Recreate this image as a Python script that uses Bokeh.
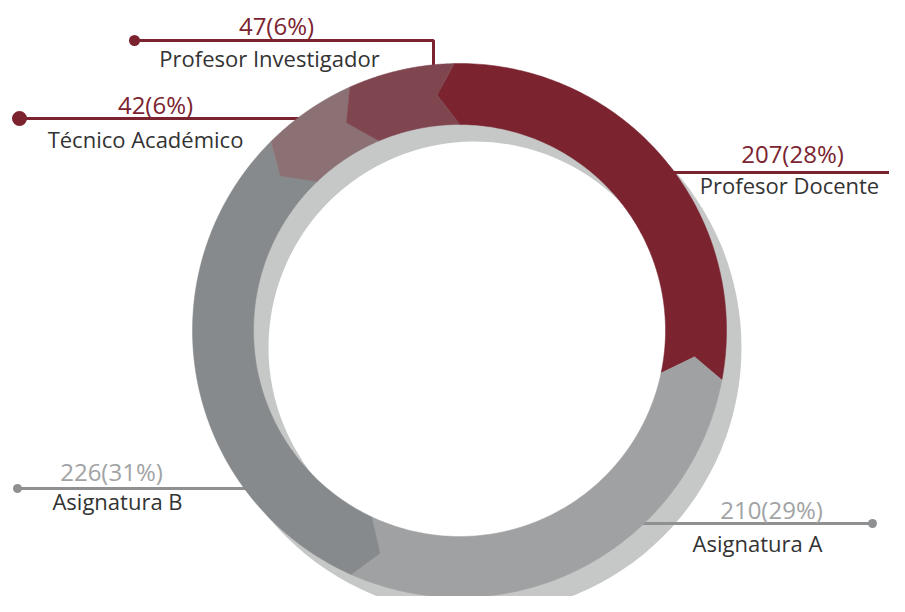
import numpy as np
from bokeh.plotting import figure
from bokeh.models import Range1d, ColumnDataSource
from bokeh.core.properties import value
from bokeh.embed import file_html
from bokeh.resources import INLINE

# ---- data ----
categories = ["Profesor Docente", "Asignatura A", "Asignatura B",
              "Técnico Académico", "Profesor Investigador"]
counts = [207, 210, 226, 42, 47]
percents = [28, 29, 31, 6, 6]
value_labels = [f"{c}({p}%)" for c, p in zip(counts, percents)]

# ---- styles ----
seg_colors = ["#7B2430", "#A0A1A3", "#878A8C", "#8B7074", "#7F4650"]
num_colors = ["#7B2430", "#A2A3A5", "#A2A3A5", "#7B2430", "#7B2430"]
line_colors = ["#7B2430", "#8E9092", "#8E9092", "#7B2430", "#7B2430"]
name_color = "#333333"
shadow_color = "#C6C8C7"
FONT = "Open Sans"

# ---- layout (image pixels) ----
W, H = 889, 596
CX, CY = 459, 330
R_OUT, R_IN = 267, 206
SHADOW_DX, SHADOW_DY = 15, 17
START = -3.0
NOTCH = 20.0
TXT_DY = -8.0

line_y = [172, 523, 488, 118, 40]
dot_x = [903, 872, 17, 19, 134]
dot_size = [12, 9, 9, 15, 11]
elbow_x = [None, None, None, None, 433]
num_x = [792, 771, 111, 155, 276]
num_y = [161, 517, 479, 112, 33]
name_x = [789, 757, 117, 145, 269]
name_y = [192, 550, 508, 146, 65]

p = figure(width=W, height=H, x_range=Range1d(0, W), y_range=Range1d(H, 0),
           min_border=0, toolbar_location=None, output_backend="svg",
           x_axis_type=None, y_axis_type=None)
p.grid.visible = False
p.outline_line_color = None
p.background_fill_color = "white"
p.border_fill_color = "white"

# shadow ring
p.annulus(x=[CX + SHADOW_DX], y=[CY + SHADOW_DY], inner_radius=R_IN, outer_radius=R_OUT,
          fill_color=shadow_color, line_color=None)

# leader lines
for i in range(len(categories)):
    y = line_y[i]
    if elbow_x[i] is None:
        dx = np.sqrt(max(R_OUT**2 - (y - CY)**2, 0))
        xr = CX + dx - 12 if dot_x[i] > CX else CX - dx + 12
        p.line([dot_x[i], xr], [y, y], line_color=line_colors[i], line_width=3)
    else:
        ex = elbow_x[i]
        yr = CY - np.sqrt(R_OUT**2 - (ex - CX)**2) + 12
        p.line([dot_x[i], ex, ex], [y, y, yr], line_color=line_colors[i], line_width=3)

# segments with chevron ends
total = sum(counts)
bounds = START + 360.0 * np.concatenate([[0], np.cumsum(counts)]) / total
rmid = (R_OUT + R_IN) / 2.0


def pt(r, deg):
    a = np.radians(deg)
    return CX + r * np.sin(a), CY - r * np.cos(a)


def chevron(b):
    t = b - np.degrees(NOTCH / 2 / rmid)
    o = t + np.degrees(np.arctan(NOTCH / R_OUT))
    n = t + np.degrees(np.arctan(NOTCH / R_IN))
    return t, o, n


xs, ys = [], []
for i in range(len(counts)):
    t0, o0, n0 = chevron(bounds[i])
    t1, o1, n1 = chevron(bounds[i + 1])
    oa = np.linspace(o0, o1, 120)
    ia = np.linspace(n1, n0, 120)
    ox, oy = pt(R_OUT, oa)
    ix, iy = pt(R_IN, ia)
    tx1, ty1 = pt(rmid, t1)
    tx0, ty0 = pt(rmid, t0)
    xs.append(list(ox) + [tx1] + list(ix) + [tx0])
    ys.append(list(oy) + [ty1] + list(iy) + [ty0])

p.patches(xs=xs, ys=ys, fill_color=seg_colors, line_color=seg_colors, line_width=0.5)

# dots
p.scatter(x=dot_x, y=line_y, size=dot_size, fill_color=line_colors, line_color=None)

# texts
src_num = ColumnDataSource(dict(x=num_x, y=[v + TXT_DY for v in num_y], t=value_labels, c=num_colors))
p.text(x="x", y="y", text="t", text_color="c", source=src_num,
       text_font=value(FONT), text_font_size="24px",
       text_align="center", text_baseline="alphabetic")
src_name = ColumnDataSource(dict(x=name_x, y=[v + TXT_DY for v in name_y], t=categories))
p.text(x="x", y="y", text="t", text_color=name_color, source=src_name,
       text_font=value(FONT), text_font_size="22px",
       text_align="center", text_baseline="alphabetic")

open("out.html", "w").write(file_html(p, INLINE))
